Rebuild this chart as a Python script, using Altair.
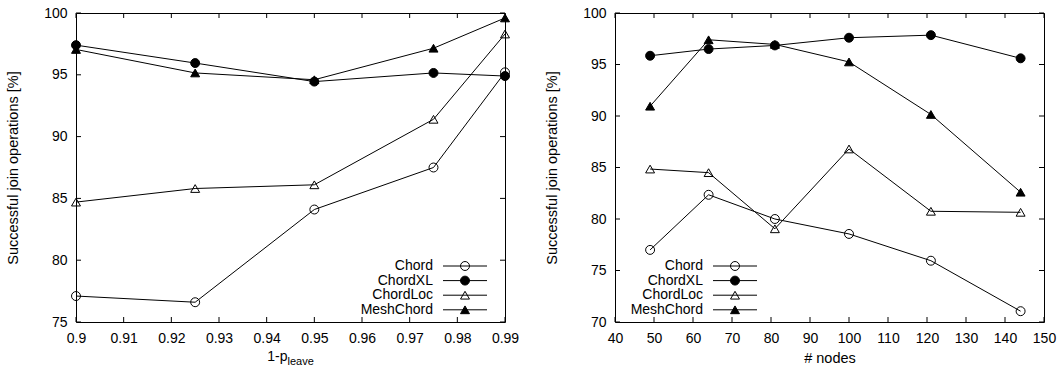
import altair as alt
import pandas as pd

# ---------------- data ----------------
series = ["Chord", "ChordXL", "ChordLoc", "MeshChord"]
shapes = ["circle", "circle", "triangle-up", "triangle-up"]
fills = ["transparent", "black", "transparent", "black"]

left_x = [0.9, 0.925, 0.95, 0.975, 0.99]
left_chord = [77.1, 76.6, 84.1, 87.5, 95.2]
left_chordxl = [97.4, 95.95, 94.45, 95.15, 94.9]
left_chordloc = [84.7, 85.8, 86.1, 91.4, 98.3]
left_mesh = [97.05, 95.15, 94.6, 97.15, 99.6]

right_x = [49, 64, 81, 100, 121, 144]
right_chord = [77.0, 82.35, 80.0, 78.55, 75.95, 71.05]
right_chordxl = [95.85, 96.5, 96.85, 97.6, 97.85, 95.6]
right_chordloc = [84.85, 84.5, 79.05, 86.8, 80.75, 80.65]
right_mesh = [90.95, 97.4, 96.95, 95.25, 90.15, 82.6]

left_xticks = [0.9, 0.91, 0.92, 0.93, 0.94, 0.95, 0.96, 0.97, 0.98, 0.99]
left_yticks = [75, 80, 85, 90, 95, 100]
right_xticks = [40, 50, 60, 70, 80, 90, 100, 110, 120, 130, 140, 150]
right_yticks = [70, 75, 80, 85, 90, 95, 100]

y_title = "Successful join operations [%]"

W, H = 429, 309
FONT = "Liberation Sans"
TICK = 5


def long_df(xs, cols):
    rows = []
    for name, vals in zip(series, cols):
        for x, v in zip(xs, vals):
            rows.append({"x": x, "y": v, "series": name})
    return pd.DataFrame(rows)


def panel(df, xdom, ydom, xticks, yticks, xfmt, xtitle, legend_x):
    xs = alt.Scale(domain=xdom, nice=False, zero=False)
    ys = alt.Scale(domain=ydom, nice=False, zero=False)
    xaxis = alt.Axis(values=xticks, format=xfmt, title=xtitle, titlePadding=6, labelFlush=False)
    yaxis = alt.Axis(values=yticks, format="d", title=y_title, titlePadding=23, labelFlush=False)

    base = alt.Chart(df)
    lines = base.mark_line(color="black", strokeWidth=1).encode(
        x=alt.X("x:Q", scale=xs, axis=xaxis),
        y=alt.Y("y:Q", scale=ys, axis=yaxis),
        detail="series:N",
    )
    pts = base.mark_point(filled=True, stroke="black", strokeWidth=1, size=80, opacity=1).encode(
        x=alt.X("x:Q", scale=xs, axis=xaxis),
        y=alt.Y("y:Q", scale=ys, axis=yaxis),
        shape=alt.Shape("series:N", scale=alt.Scale(domain=series, range=shapes), legend=None),
        fill=alt.Fill("series:N", scale=alt.Scale(domain=series, range=fills), legend=None),
    )

    xt = pd.DataFrame({"v": xticks})
    yt = pd.DataFrame({"v": yticks})
    tb = alt.Chart(xt).mark_rule(color="black", strokeWidth=1).encode(
        x=alt.X("v:Q", scale=xs, axis=xaxis), y=alt.value(H), y2=alt.value(H - TICK))
    tt = alt.Chart(xt).mark_rule(color="black", strokeWidth=1).encode(
        x=alt.X("v:Q", scale=xs, axis=xaxis), y=alt.value(0), y2=alt.value(TICK))
    tl = alt.Chart(yt).mark_rule(color="black", strokeWidth=1).encode(
        y=alt.Y("v:Q", scale=ys, axis=yaxis), x=alt.value(0), x2=alt.value(TICK))
    tr = alt.Chart(yt).mark_rule(color="black", strokeWidth=1).encode(
        y=alt.Y("v:Q", scale=ys, axis=yaxis), x=alt.value(W - TICK), x2=alt.value(W))

    layers = [lines, pts, tb, tt, tl, tr]

    # gnuplot-style key: label, then line with marker
    for i, (name, shp, fl) in enumerate(zip(series, shapes, fills)):
        ly = 253 + 14.6 * i
        d = pd.DataFrame({"series": [name]})
        c = alt.Chart(d)
        layers.append(c.mark_text(align="right", baseline="middle", font=FONT, fontSize=14,
                                  color="black").encode(
            text="series:N", x=alt.value(legend_x), y=alt.value(ly)))
        layers.append(c.mark_rule(color="black", strokeWidth=1).encode(
            x=alt.value(legend_x + 10), x2=alt.value(legend_x + 54), y=alt.value(ly)))
        layers.append(c.mark_point(shape=shp, filled=True, fill=fl, stroke="black",
                                   strokeWidth=1, size=80, opacity=1).encode(
            x=alt.value(legend_x + 32), y=alt.value(ly)))
    return layers


left_df = long_df(left_x, [left_chord, left_chordxl, left_chordloc, left_mesh])
right_df = long_df(right_x, [right_chord, right_chordxl, right_chordloc, right_mesh])

left_layers = panel(left_df, [0.9, 0.99], [75, 100], left_xticks, left_yticks,
                    ".2~f", "", 357)
# x title with subscript: 1-p_leave
tdf = pd.DataFrame({"a": ["1-p"], "b": ["leave"]})
left_layers.append(alt.Chart(tdf).mark_text(align="right", baseline="alphabetic", font=FONT,
                                            fontSize=14, color="black").encode(
    text="a:N", x=alt.value(W / 2 - 3), y=alt.value(348)))
left_layers.append(alt.Chart(tdf).mark_text(align="left", baseline="alphabetic", font=FONT,
                                            fontSize=11, color="black").encode(
    text="b:N", x=alt.value(W / 2 - 3), y=alt.value(352)))

right_layers = panel(right_df, [40, 150], [70, 100], right_xticks, right_yticks,
                     "d", "# nodes", 88)

left = alt.layer(*left_layers).properties(width=W, height=H)
right = alt.layer(*right_layers).properties(width=W, height=H)

chart = alt.hconcat(left, right, spacing=24).properties(
    padding={"left": 5, "top": 5, "right": 5, "bottom": 5},
    background="white",
).configure_view(
    stroke="black", strokeWidth=1
).configure_axis(
    labelFont=FONT, labelFontSize=14, labelColor="black",
    titleFont=FONT, titleFontSize=14.5, titleFontWeight="normal", titleColor="black",
    domain=False, ticks=False, tickSize=0, grid=False, labelPadding=9,
)

chart.save("out.html", embed_options={"renderer": "svg", "actions": False})
